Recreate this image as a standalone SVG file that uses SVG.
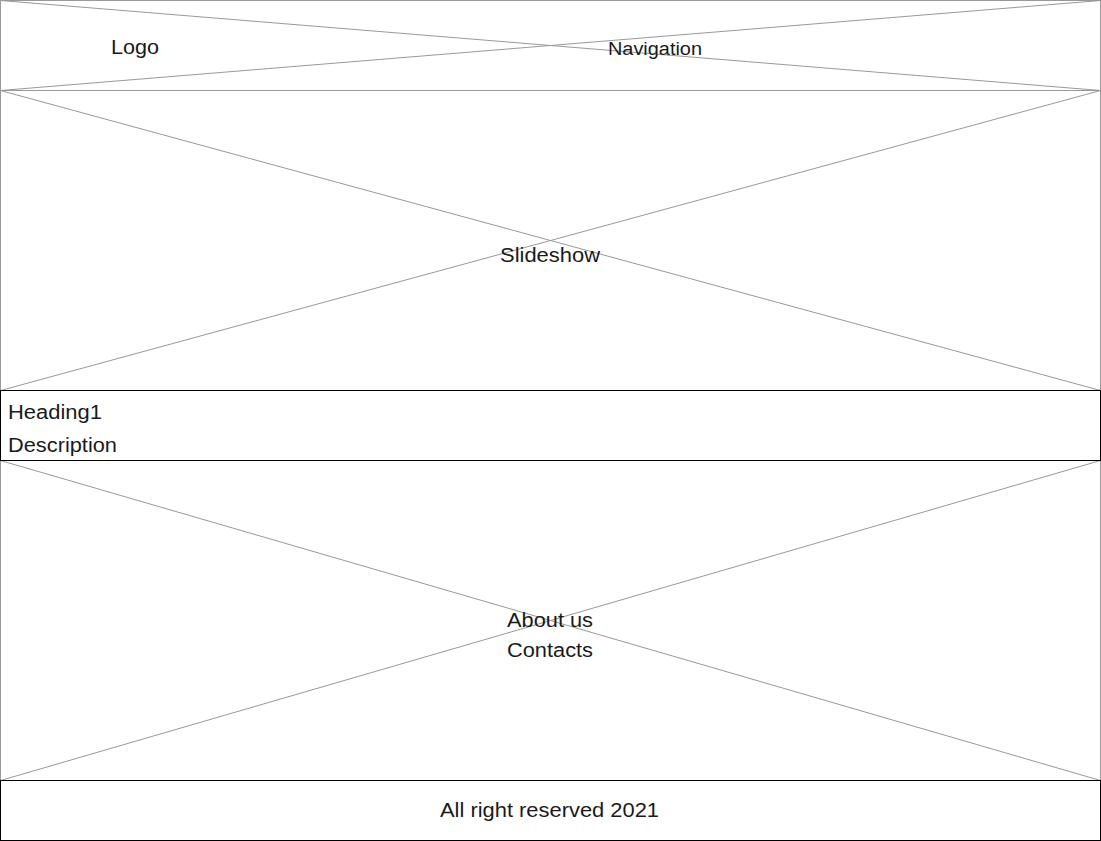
<svg xmlns="http://www.w3.org/2000/svg" width="1101" height="841" viewBox="0 0 1101 841">
<style>
.ph{fill:#fff;stroke:#999;stroke-width:1}
.x{stroke:#999;stroke-width:1;fill:none}
.bx{fill:#fff;stroke:#000;stroke-width:1}
text{font-family:"Liberation Sans",Arial,sans-serif;fill:#1a1a1a;font-size:20px}
</style>
<rect width="1101" height="841" fill="#fff"/>
<g id="header">
<rect class="ph" x="0.5" y="0.5" width="1100" height="90"/>
<path class="x" d="M0.5 0.5L1100.5 90.5M1100.5 0.5L0.5 90.5"/>
<text x="111" y="54" textLength="48" lengthAdjust="spacingAndGlyphs">Logo</text>
<text x="608" y="55" style="font-size:18px" textLength="94" lengthAdjust="spacingAndGlyphs">Navigation</text>
</g>
<g id="slideshow">
<rect class="ph" x="0.5" y="90.5" width="1100" height="300"/>
<path class="x" d="M0.5 90.5L1100.5 390.5M1100.5 90.5L0.5 390.5"/>
<text x="500" y="262" textLength="100" lengthAdjust="spacingAndGlyphs">Slideshow</text>
</g>
<g id="about">
<rect class="ph" x="0.5" y="460.5" width="1100" height="320"/>
<path class="x" d="M0.5 460.5L1100.5 780.5M1100.5 460.5L0.5 780.5"/>
<text x="507" y="627" textLength="86" lengthAdjust="spacingAndGlyphs">About us</text>
<text x="507" y="657" textLength="86" lengthAdjust="spacingAndGlyphs">Contacts</text>
</g>
<g id="heading">
<rect class="bx" x="0.5" y="390.5" width="1100" height="70"/>
<text x="8" y="419" textLength="94" lengthAdjust="spacingAndGlyphs">Heading1</text>
<text x="8" y="452" textLength="109" lengthAdjust="spacingAndGlyphs">Description</text>
</g>
<g id="footer">
<rect class="bx" x="0.5" y="780.5" width="1100" height="60"/>
<text x="440" y="817" textLength="219" lengthAdjust="spacingAndGlyphs">All right reserved 2021</text>
</g>
<g id="connectors"></g>
</svg>
